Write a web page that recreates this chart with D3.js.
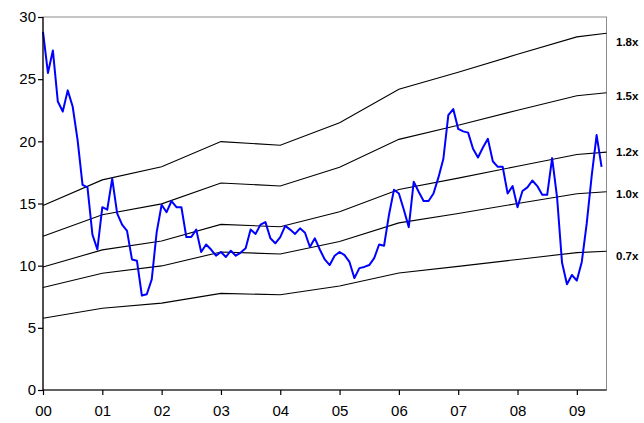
<!DOCTYPE html>
<html>
<head>
<meta charset="utf-8">
<script src="https://cdn.jsdelivr.net/npm/d3@7"></script>
<style>
  html, body { margin: 0; padding: 0; background: #fff; }
  svg { display: block; font-family: "Liberation Sans", Arial, sans-serif; }
</style>
</head>
<body>
<svg id="chart" width="644" height="423"></svg>
<script>
// ---- Data ----
const xTickLabels = ["00", "01", "02", "03", "04", "05", "06", "07", "08", "09"];
const yTicks = [0, 5, 10, 15, 20, 25, 30];

// Monthly price, Jan 2000 .. Jun 2009 (month index from Jan 2000)
const price = [
  28.8, 25.5, 27.3, 23.2, 22.4, 24.1, 22.8, 20.1, 16.5, 16.3, 12.5, 11.3,
  14.7, 14.5, 17.0, 14.2, 13.3, 12.8, 10.5, 10.4, 7.6, 7.7, 8.9, 12.7,
  14.9, 14.3, 15.2, 14.7, 14.7, 12.3, 12.3, 12.9, 11.1, 11.7, 11.3, 10.8,
  11.1, 10.7, 11.2, 10.8, 11.05, 11.4, 12.9, 12.55, 13.3, 13.5, 12.2, 11.8,
  12.3, 13.2, 12.9, 12.55, 13.0, 12.65, 11.5, 12.2, 11.3, 10.5, 10.05, 10.8,
  11.1, 10.85, 10.3, 9.0, 9.8, 9.9, 10.05, 10.6, 11.7, 11.6, 14.1, 16.1,
  15.8, 14.5, 13.1, 16.75, 15.95, 15.2, 15.2, 15.8, 17.1, 18.6, 22.1, 22.6,
  21.0, 20.8, 20.7, 19.4, 18.7, 19.5, 20.2, 18.4, 17.95, 17.95, 15.8, 16.4,
  14.7, 16.0, 16.3, 16.85, 16.4, 15.7, 15.7, 18.65, 15.5, 10.25, 8.5, 9.25,
  8.8, 10.3, 13.4, 17.2, 20.5, 17.95
];

// Multiple bands: yearly points (years since 2000)
const bandYears = [0, 1, 2, 3, 4, 5, 6, 7, 8, 9, 9.5];
const bandLabels = ["0.7x", "1.0x", "1.2x", "1.5x", "1.8x"];
const band07 = [5.77, 6.57, 6.99, 7.77, 7.66, 8.36, 9.41, 9.94, 10.50, 11.05, 11.16];
const band10 = [8.24, 9.39, 9.98, 11.10, 10.94, 11.94, 13.44, 14.20, 15.00, 15.78, 15.94];
const band12 = [9.89, 11.27, 11.98, 13.32, 13.13, 14.33, 16.13, 17.04, 18.00, 18.94, 19.13];
const band15 = [12.36, 14.09, 14.97, 16.65, 16.41, 17.91, 20.16, 21.30, 22.50, 23.67, 23.91];
const band18 = [14.83, 16.90, 17.96, 19.98, 19.69, 21.49, 24.19, 25.56, 27.00, 28.40, 28.69];
const bands = [band07, band10, band12, band15, band18];

// ---- Layout ----
const svg = d3.select("#chart");
const mLeft = 43, mRight = 606.5, mTop = 17, mBottom = 390;
const FONT = "'Liberation Sans', Arial, Helvetica, sans-serif";

const x = d3.scaleLinear().domain([0, 9.5]).range([mLeft, mRight]);
const y = d3.scaleLinear().domain([0, 30]).range([mBottom, mTop]);

// Plot frame (top/right in grey)
svg.append("rect")
  .attr("x", mLeft).attr("y", mTop)
  .attr("width", mRight - mLeft).attr("height", mBottom - mTop)
  .attr("fill", "none").attr("stroke", "#8c8c8c").attr("stroke-width", 1);

// Band lines
const bandLine = d3.line()
  .x((d, i) => x(bandYears[i]))
  .y(d => y(d));

svg.append("g").selectAll("path")
  .data(bands)
  .join("path")
  .attr("d", d => bandLine(d))
  .attr("fill", "none")
  .attr("stroke", "#000")
  .attr("stroke-width", 1.1);

// Price line
const priceLine = d3.line()
  .x((d, i) => x(i / 12))
  .y(d => y(d));

svg.append("path")
  .attr("d", priceLine(price))
  .attr("fill", "none")
  .attr("stroke", "#0000ff")
  .attr("stroke-width", 2)
  .attr("stroke-linejoin", "round");

// Axes
const yAxis = d3.axisLeft(y).tickValues(yTicks).tickSize(5).tickPadding(2)
  .tickFormat(d3.format("d"));
const gy = svg.append("g").attr("transform", `translate(${mLeft},0)`).call(yAxis);

const xAxis = d3.axisBottom(x).tickValues(d3.range(xTickLabels.length))
  .tickSize(5).tickPadding(10)
  .tickFormat((d, i) => xTickLabels[i]);
const gx = svg.append("g").attr("transform", `translate(0,${mBottom})`).call(xAxis);

[gx, gy].forEach(g => {
  g.attr("font-family", FONT);
  g.select(".domain").attr("stroke", "#000").attr("stroke-width", 1.2);
  g.selectAll(".tick line").attr("stroke", "#000").attr("stroke-width", 1.2);
  g.selectAll(".tick text")
    .attr("fill", "#000")
    .style("font-size", "15px")
    .style("font-family", FONT);
});
gx.select(".domain").attr("d", `M${mLeft},0H${mRight}`);
gy.select(".domain").attr("d", `M0,${mBottom}V${mTop}`);

// Right-side multiple labels
const labelDy = [5, 2, -0.4, 3, 8.4];
svg.append("g").selectAll("text")
  .data(bands)
  .join("text")
  .attr("x", 616)
  .attr("y", (d, i) => y(d[d.length - 1]) + labelDy[i])
  .attr("dy", "0.35em")
  .attr("fill", "#000")
  .style("font-size", "11.5px")
  .style("font-weight", "bold")
  .style("font-family", FONT)
  .text((d, i) => bandLabels[i]);
</script>
</body>
</html>
